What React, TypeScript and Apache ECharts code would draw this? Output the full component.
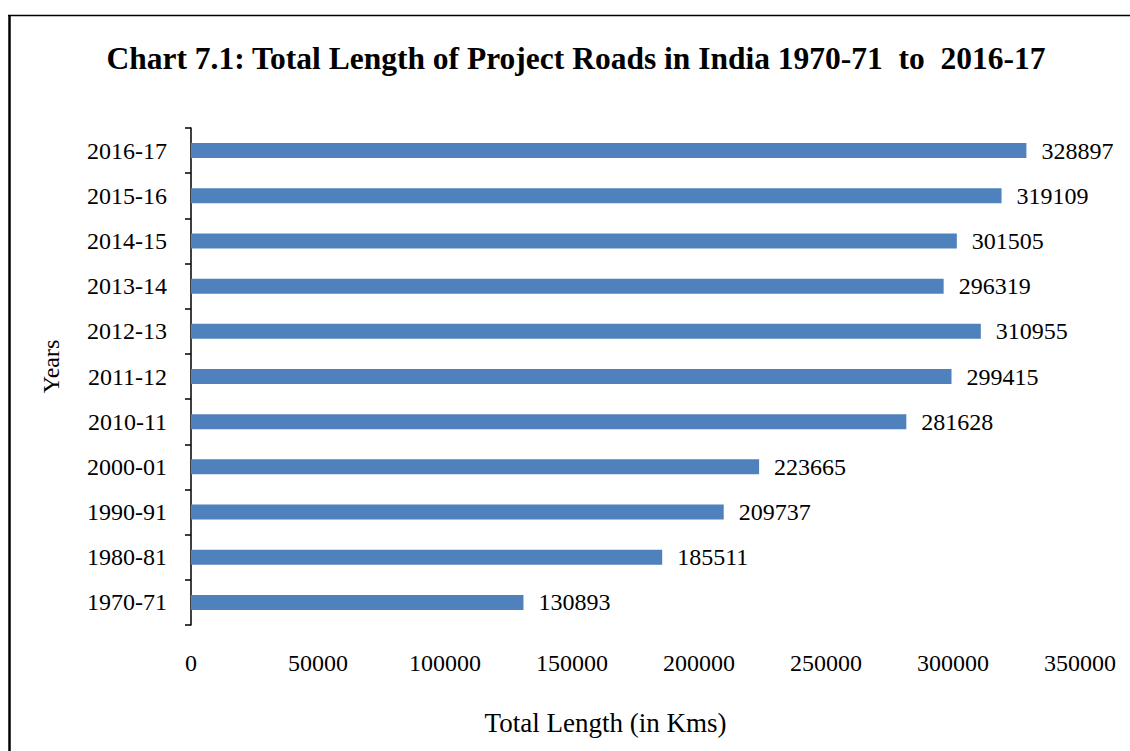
import React, { useEffect, useRef } from "react";
import * as echarts from "echarts";

const categories = ["1970-71", "1980-81", "1990-91", "2000-01", "2010-11", "2011-12", "2012-13", "2013-14", "2014-15", "2015-16", "2016-17"];
const lengths = [130893, 185511, 209737, 223665, 281628, 299415, 310955, 296319, 301505, 319109, 328897];

const FONT = "'Liberation Serif', 'Times New Roman', serif";

export default function App() {
  const ref = useRef<HTMLDivElement>(null);
  useEffect(() => {
    document.body.style.margin = "0";
    const chart = echarts.init(ref.current!, null, { renderer: "svg" });
    chart.setOption({
      animation: false,
      backgroundColor: "#ffffff",
      title: {
        text: "Chart 7.1: Total Length of Project Roads in India 1970-71  to  2016-17",
        left: 571,
        textAlign: "center",
        top: 37,
        textStyle: { fontFamily: FONT, fontWeight: "bold", fontSize: 31.5, color: "#000" },
      },
      graphic: [
        { type: "line", shape: { x1: 9.5, y1: 15, x2: 9.5, y2: 751 }, style: { stroke: "#000", lineWidth: 2.5 } },
        { type: "line", shape: { x1: 8, y1: 15.5, x2: 1130, y2: 15.5 }, style: { stroke: "#000", lineWidth: 1.5 } },
      ],
      grid: { left: 191, right: 50, top: 128, bottom: 126, containLabel: false },
      xAxis: {
        type: "value",
        min: 0,
        max: 350000,
        interval: 50000,
        name: "Total Length (in Kms)",
        nameLocation: "middle",
        nameGap: 84,
        nameTextStyle: { fontFamily: FONT, fontSize: 27, color: "#000", padding: [0, 60, 0, 0] },
        axisLine: { show: false },
        axisTick: { show: false },
        splitLine: { show: false },
        axisLabel: { fontFamily: FONT, fontSize: 24, color: "#000", margin: 26, formatter: (v: number) => String(v) },
      },
      yAxis: {
        type: "category",
        data: categories,
        name: "Years",
        nameLocation: "middle",
        nameGap: 128,
        nameRotate: 90,
        nameTextStyle: { fontFamily: FONT, fontSize: 24, color: "#000", padding: [0, 0, 0, 20] },
        axisLine: { show: true, lineStyle: { color: "#000", width: 1.5 } },
        axisTick: { show: true, length: 6, lineStyle: { color: "#000", width: 1.5 } },
        axisLabel: { fontFamily: FONT, fontSize: 24, color: "#000", margin: 24 },
      },
      series: [
        {
          type: "bar",
          data: lengths,
          barWidth: 15,
          itemStyle: { color: "#4f81bd" },
          label: {
            show: true,
            position: "right",
            distance: 15,
            fontFamily: FONT,
            fontSize: 24,
            color: "#000",
          },
        },
      ],
    });
    return () => chart.dispose();
  }, []);
  return <div ref={ref} style={{ position: "absolute", left: 0, top: 0, width: 1130, height: 751 }} />;
}
